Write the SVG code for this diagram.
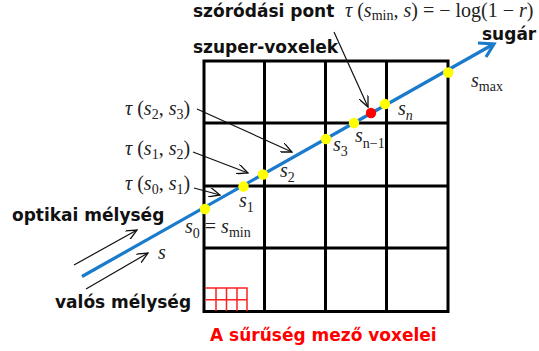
<svg xmlns="http://www.w3.org/2000/svg" width="539" height="351" viewBox="0 0 539 351">
<style>
.b{font-family:"DejaVu Sans",sans-serif;font-weight:bold;font-size:17px;fill:#111}
.r{fill:#ff0000}
.m{font-family:"Liberation Serif",serif;font-size:20px;fill:#222}
.i{font-style:italic}
.sub{font-size:14px}
.grid{stroke:#000;stroke-width:3;fill:none}
.rg{stroke:#ff2020;stroke-width:1.5;fill:none}
.ar{stroke:#111;stroke-width:1.2;fill:none;marker-end:url(#ah)}
.dot{fill:#ffff00}
</style>
<defs>
<marker id="ah" viewBox="0 0 12 10" refX="11" refY="5" markerWidth="12" markerHeight="10" markerUnits="userSpaceOnUse" orient="auto">
<path d="M0,0 L11,5 L0,10" fill="none" stroke="#111" stroke-width="1.3"/>
</marker>
</defs>
<g id="grid">
<rect class="grid" x="204" y="61" width="244" height="250.5"/>
<path class="grid" d="M264.5,61V311.5M325.5,61V311.5M386.5,61V311.5M204,123H448M204,186H448M204,248H448"/>
</g>
<g id="density-voxels">
<path class="rg" d="M205.5,288H247V311M205.5,299.7H247M216,288V311M226.5,288V311M237,288V311"/>
</g>
<g id="ray">
<line x1="82" y1="276.5" x2="492" y2="45" stroke="#1a7acc" stroke-width="3.2"/>
<path d="M478,43 L494,44 L486,57" fill="none" stroke="#1a7acc" stroke-width="3.2"/>
</g>
<g id="points">
<circle class="dot" cx="205" cy="209" r="5.2"/>
<circle class="dot" cx="243.5" cy="186.5" r="5.2"/>
<circle class="dot" cx="263" cy="174.5" r="5.2"/>
<circle class="dot" cx="326" cy="139" r="5.2"/>
<circle class="dot" cx="354" cy="123" r="5.2"/>
<circle cx="371" cy="113" r="5.2" fill="#ff0000"/>
<circle class="dot" cx="385" cy="104" r="5.2"/>
<circle class="dot" cx="448.3" cy="72.5" r="5.2"/>
</g>
<g id="connectors">
<line class="ar" x1="334" y1="32" x2="368" y2="107"/>
<line class="ar" x1="197" y1="109" x2="292" y2="152"/>
<line class="ar" x1="193" y1="152" x2="248" y2="173"/>
<line class="ar" x1="194" y1="188" x2="220" y2="195"/>
<line class="ar" x1="74" y1="265" x2="137" y2="230"/>
<line class="ar" x1="86" y1="289" x2="148" y2="253"/>
</g>
<g id="labels">
<text class="b" x="193" y="17">szóródási pont</text>
<text class="m" x="345" y="17" font-size="18"><tspan class="i">τ</tspan> (<tspan class="i">s</tspan><tspan class="sub" font-size="12" dy="3">min</tspan><tspan dy="-3">, </tspan><tspan class="i">s</tspan>) = − log(1 − <tspan class="i">r</tspan>)</text>
<text class="b" x="193" y="52.5">szuper-voxelek</text>
<text class="b" x="482" y="40">sugár</text>
<text class="m" x="471" y="87"><tspan class="i">s</tspan><tspan class="sub" dy="4">max</tspan></text>
<text class="m" x="125" y="115"><tspan class="i">τ</tspan> (<tspan class="i">s</tspan><tspan class="sub" dy="4">2</tspan><tspan dy="-4">, </tspan><tspan class="i">s</tspan><tspan class="sub" dy="4">3</tspan><tspan dy="-4">)</tspan></text>
<text class="m" x="125" y="155"><tspan class="i">τ</tspan> (<tspan class="i">s</tspan><tspan class="sub" dy="4">1</tspan><tspan dy="-4">, </tspan><tspan class="i">s</tspan><tspan class="sub" dy="4">2</tspan><tspan dy="-4">)</tspan></text>
<text class="m" x="125" y="190"><tspan class="i">τ</tspan> (<tspan class="i">s</tspan><tspan class="sub" dy="4">0</tspan><tspan dy="-4">, </tspan><tspan class="i">s</tspan><tspan class="sub" dy="4">1</tspan><tspan dy="-4">)</tspan></text>
<text class="m" x="239" y="207"><tspan class="i">s</tspan><tspan class="sub" dy="5">1</tspan></text>
<text class="m" x="280" y="177"><tspan class="i">s</tspan><tspan class="sub" dy="5">2</tspan></text>
<text class="m" x="333" y="151"><tspan class="i">s</tspan><tspan class="sub" dy="5">3</tspan></text>
<text class="m" x="355" y="142"><tspan class="i">s</tspan><tspan class="sub" dy="6">n−1</tspan></text>
<text class="m" x="398" y="115"><tspan class="i">s</tspan><tspan class="sub" dy="5" font-style="italic">n</tspan></text>
<text class="m" x="185" y="233"><tspan class="i">s</tspan><tspan class="sub" dy="5">0</tspan><tspan dy="-5"> = </tspan><tspan class="i">s</tspan><tspan class="sub" dy="4">min</tspan></text>
<text class="m i" x="158" y="259">s</text>
<text class="b" x="12" y="221">optikai mélység</text>
<text class="b" x="55" y="308">valós mélység</text>
<text class="b r" x="210" y="341">A sűrűség mező voxelei</text>
</g>
</svg>
